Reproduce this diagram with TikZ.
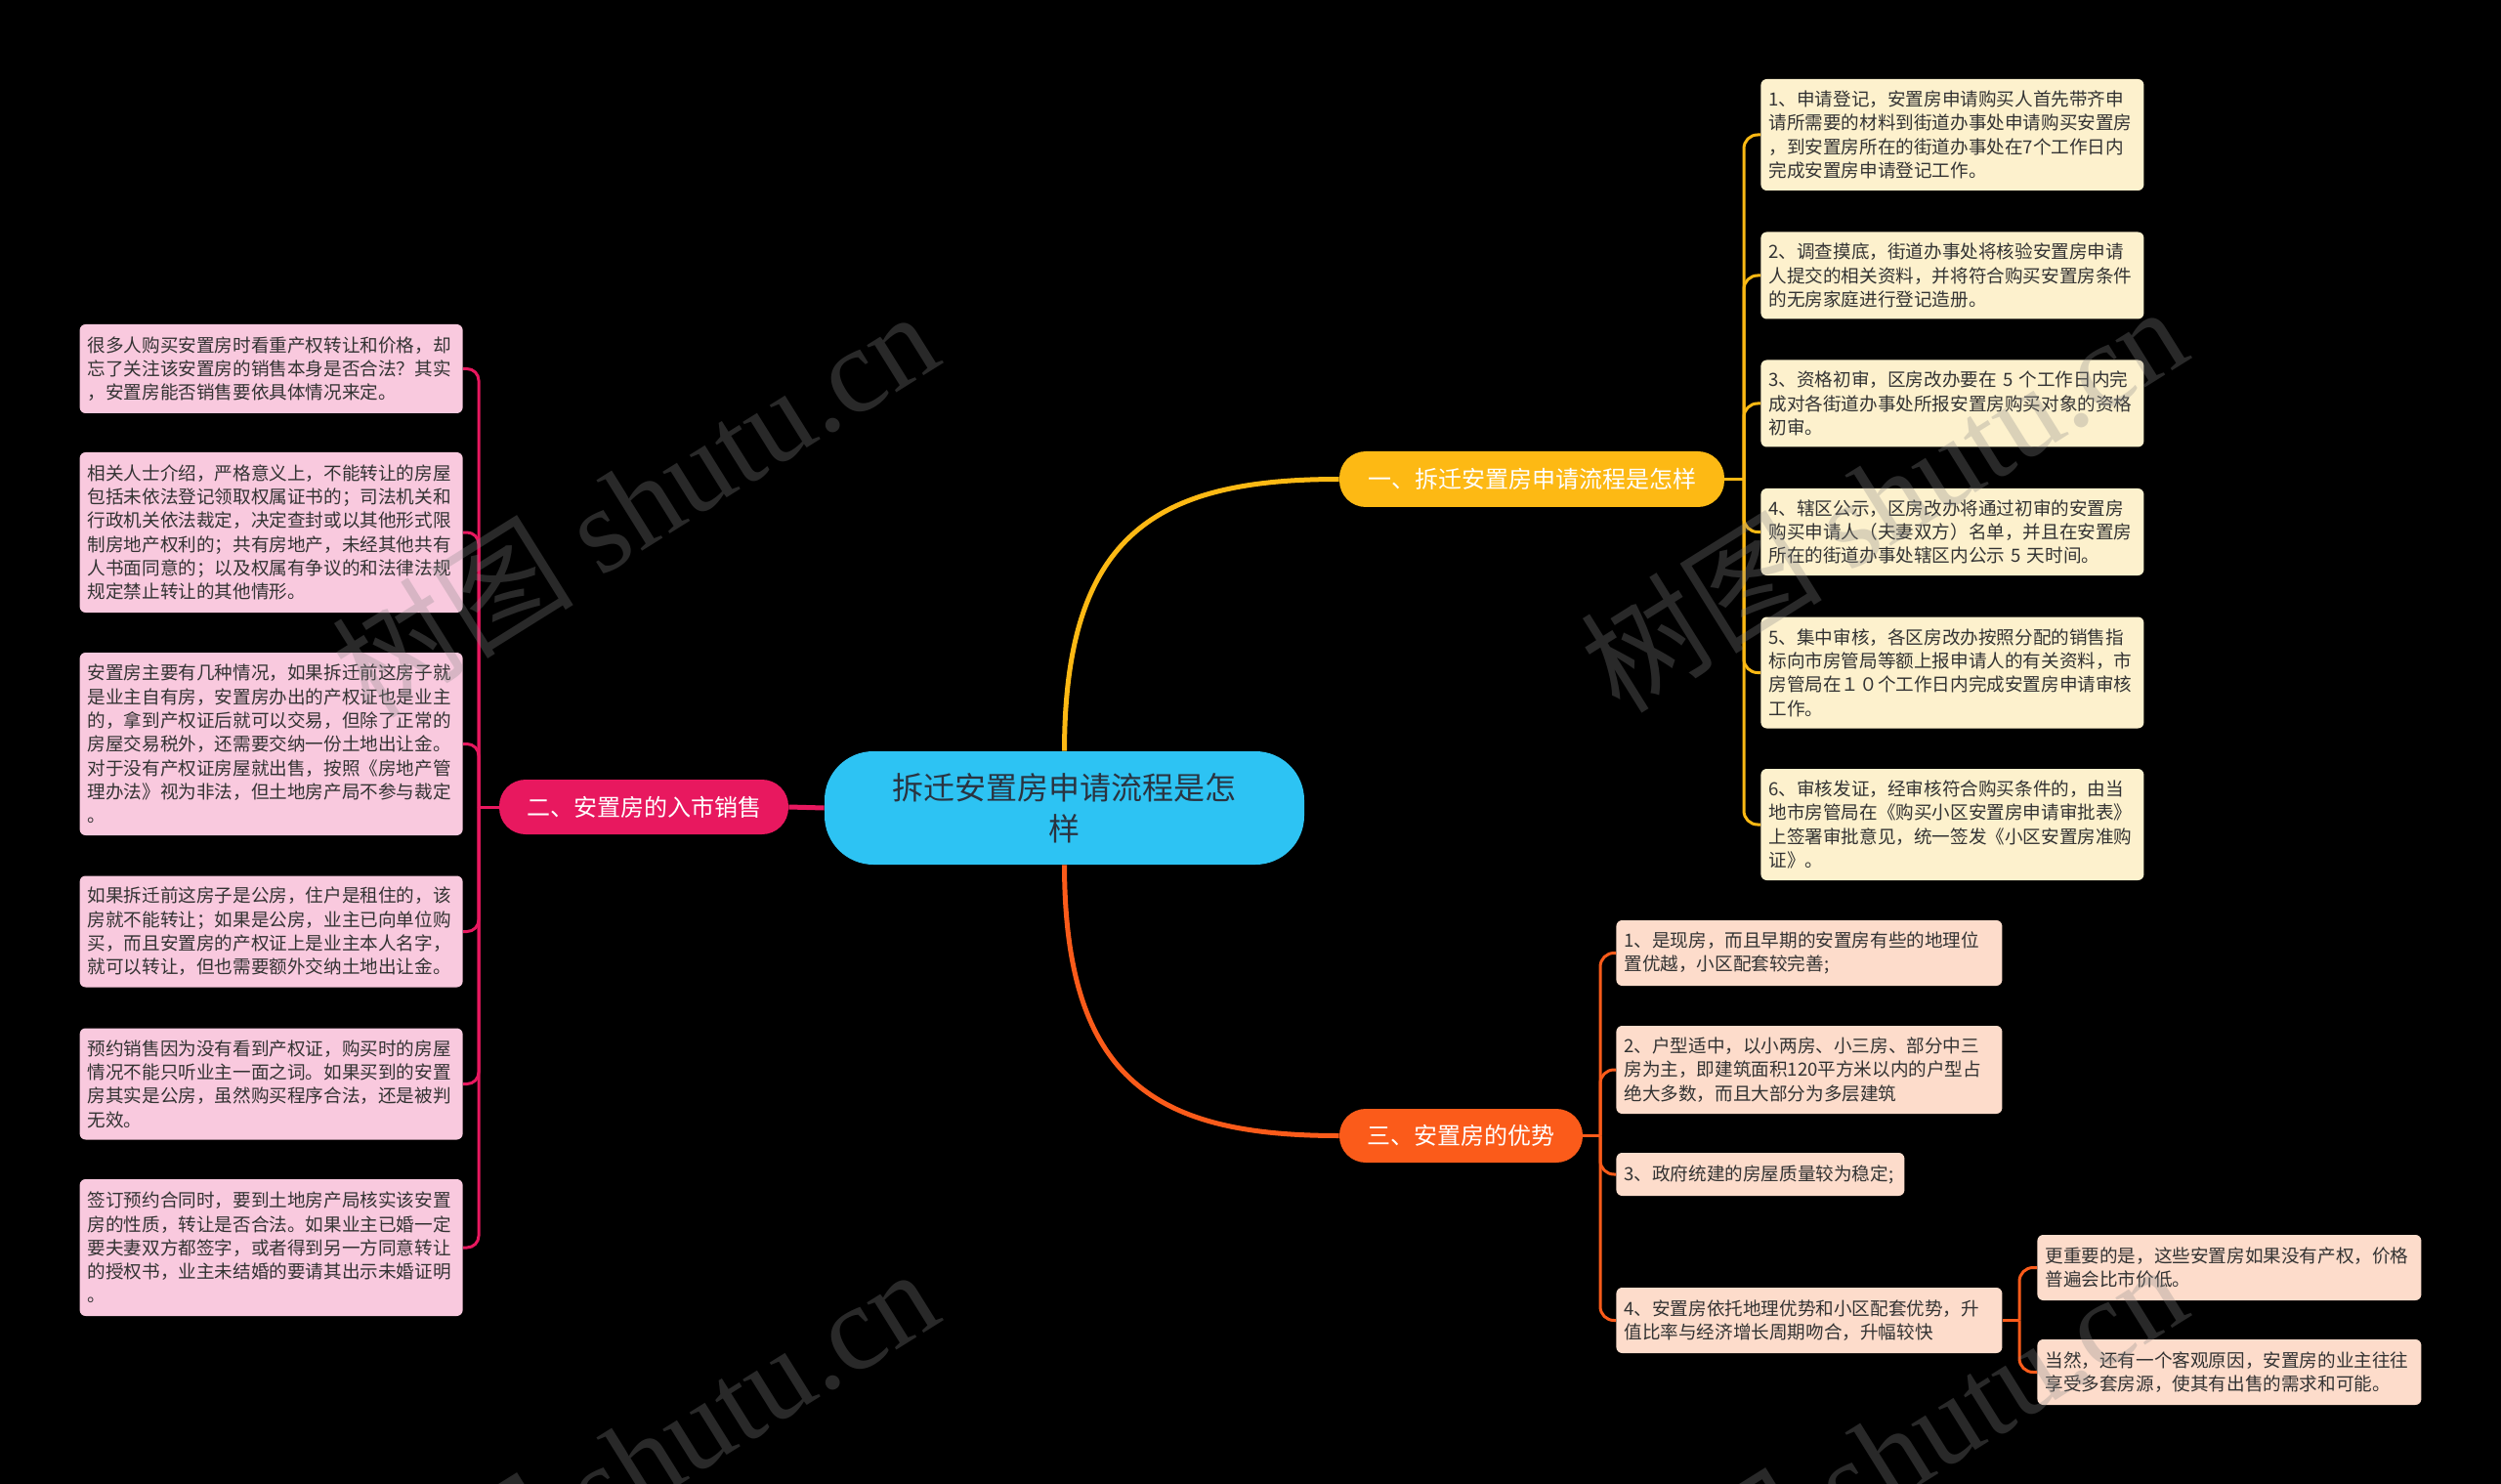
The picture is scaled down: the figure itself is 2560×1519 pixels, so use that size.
\documentclass[tikz,border=0pt]{standalone}
\usepackage{fontspec}
\setmainfont{Noto Sans CJK SC}
\newfontfamily\wmserif{Liberation Serif}
\definecolor{cyanC}{HTML}{2DC3F3}
\definecolor{yelB}{HTML}{FDB914}
\definecolor{pinkB}{HTML}{E8185F}
\definecolor{orngB}{HTML}{FB5B1A}
\definecolor{creamL}{HTML}{FDF1CD}
\definecolor{pinkL}{HTML}{F9C9DE}
\definecolor{peachL}{HTML}{FDDCCB}
\definecolor{txt}{HTML}{333333}
\definecolor{ctxt}{HTML}{2A3340}
\definecolor{wmgray}{HTML}{8A8A8A}
\begin{document}
\begin{tikzpicture}[x=0.5pt,y=-0.5pt,
  leaf/.style={rounded corners=3pt, inner xsep=4pt, inner ysep=0pt, align=left,
    text width=188pt, font=\fontsize{9.3pt}{12.15pt}\selectfont, text=txt},
  yleaf/.style={leaf, fill=creamL, anchor=west},
  pleaf/.style={leaf, fill=pinkL, anchor=east},
  oleaf/.style={leaf, fill=peachL, anchor=west},
  branch/.style={rounded corners=13.5pt, inner sep=0pt, text=white,
    font=\fontsize{12pt}{14pt}\selectfont},
  centerbox/.style={fill=cyanC, rounded corners=25pt, inner sep=0pt, align=center,
    minimum width=245.5pt, minimum height=58pt, text=ctxt,
    font=\fontsize{16pt}{21pt}\selectfont},
  yline/.style={draw=yelB, line width=1.5pt},
  pline/.style={draw=pinkB, line width=1.5pt},
  oline/.style={draw=orngB, line width=1.5pt},
  wm/.style={text=wmgray, opacity=0.3, font=\fontsize{62pt}{62pt}\selectfont, inner sep=0pt}
]
\useasboundingbox[fill=black] (0,0) rectangle (2560,1519);

% center and branches
\node[centerbox] (c) at (1089.5,827) {拆迁安置房申请流程是怎\\样};
\node[branch, fill=yelB, minimum width=197pt, minimum height=28.5pt] (b1) at (1568,490.5) {一、拆迁安置房申请流程是怎样};
\node[branch, fill=pinkB, minimum width=148pt, minimum height=28pt] (b2) at (659,826) {二、安置房的入市销售};
\node[branch, fill=orngB, minimum width=124.5pt, minimum height=27.5pt] (b3) at (1495.5,1162.5) {三、安置房的优势};

\draw[draw=yelB, line width=2.5pt] (c.north) .. controls (1090,545) and (1185,490.5) .. (b1.west);
\draw[draw=orngB, line width=2.5pt] (c.south) .. controls (1090,1108) and (1185,1162.5) .. (b3.west);
\draw[draw=pinkB, line width=2.5pt] (c.west) -- (b2.east);

% branch 1 leaves
\node[yleaf, minimum height=57pt] (y1) at (1802,138) {1、申请登记，安置房申请购买人首先带齐申\\请所需要的材料到街道办事处申请购买安置房\\，到安置房所在的街道办事处在7个工作日内\\完成安置房申请登记工作。};
\node[yleaf, minimum height=44.5pt] (y2) at (1802,282) {2、调查摸底，街道办事处将核验安置房申请\\人提交的相关资料，并将符合购买安置房条件\\的无房家庭进行登记造册。};
\node[yleaf, minimum height=44.5pt] (y3) at (1802,413) {3、资格初审，区房改办要在 5 个工作日内完\\成对各街道办事处所报安置房购买对象的资格\\初审。};
\node[yleaf, minimum height=44.5pt] (y4) at (1802,544.5) {4、辖区公示，区房改办将通过初审的安置房\\购买申请人（夫妻双方）名单，并且在安置房\\所在的街道办事处辖区内公示 5 天时间。};
\node[yleaf, minimum height=57pt] (y5) at (1802,688.5) {5、集中审核，各区房改办按照分配的销售指\\标向市房管局等额上报申请人的有关资料，市\\房管局在１０个工作日内完成安置房申请审核\\工作。};
\node[yleaf, minimum height=57pt] (y6) at (1802,844) {6、审核发证，经审核符合购买条件的，由当\\地市房管局在《购买小区安置房申请审批表》\\上签署审批意见，统一签发《小区安置房准购\\证》。};

\coordinate (j1) at (1785,490.5);
\draw[yline] (b1.east) -- (j1);
\foreach \n in {y1,y2,y3,y4,y5,y6} \draw[yline, rounded corners=7pt] (j1) |- (\n.west);

% branch 2 leaves
\node[pleaf, minimum height=45.5pt] (p1) at (474,377.5) {很多人购买安置房时看重产权转让和价格，却\\忘了关注该安置房的销售本身是否合法？其实\\，安置房能否销售要依具体情况来定。};
\node[pleaf, minimum height=82pt] (p2) at (474,545) {相关人士介绍，严格意义上，不能转让的房屋\\包括未依法登记领取权属证书的；司法机关和\\行政机关依法裁定，决定查封或以其他形式限\\制房地产权利的；共有房地产，未经其他共有\\人书面同意的；以及权属有争议的和法律法规\\规定禁止转让的其他情形。};
\node[pleaf, minimum height=93.5pt] (p3) at (474,761.5) {安置房主要有几种情况，如果拆迁前这房子就\\是业主自有房，安置房办出的产权证也是业主\\的，拿到产权证后就可以交易，但除了正常的\\房屋交易税外，还需要交纳一份土地出让金。\\对于没有产权证房屋就出售，按照《房地产管\\理办法》视为非法，但土地房产局不参与裁定\\。};
\node[pleaf, minimum height=57pt] (p4) at (474,953.5) {如果拆迁前这房子是公房，住户是租住的，该\\房就不能转让；如果是公房，业主已向单位购\\买，而且安置房的产权证上是业主本人名字，\\就可以转让，但也需要额外交纳土地出让金。};
\node[pleaf, minimum height=57pt] (p5) at (474,1109.5) {预约销售因为没有看到产权证，购买时的房屋\\情况不能只听业主一面之词。如果买到的安置\\房其实是公房，虽然购买程序合法，还是被判\\无效。};
\node[pleaf, minimum height=70pt] (p6) at (474,1277) {签订预约合同时，要到土地房产局核实该安置\\房的性质，转让是否合法。如果业主已婚一定\\要夫妻双方都签字，或者得到另一方同意转让\\的授权书，业主未结婚的要请其出示未婚证明\\。};

\coordinate (j2) at (490,826);
\draw[pline] (b2.west) -- (j2);
\foreach \n in {p1,p2,p3,p4,p5,p6} \draw[pline, rounded corners=6pt] (j2) |- (\n.east);

% branch 3 leaves
\node[oleaf, text width=189.5pt, minimum height=33.5pt] (o1) at (1654,975.5) {1、是现房，而且早期的安置房有些的地理位\\置优越，小区配套较完善;};
\node[oleaf, text width=189.5pt, minimum height=45pt] (o2) at (1654,1095) {2、户型适中，以小两房、小三房、部分中三\\房为主，即建筑面积120平方米以内的户型占\\绝大多数，而且大部分为多层建筑};
\node[oleaf, text width=139.5pt, minimum height=22pt] (o3) at (1654,1202) {3、政府统建的房屋质量较为稳定;};
\node[oleaf, text width=189.5pt, minimum height=33.5pt] (o4) at (1654,1351.5) {4、安置房依托地理优势和小区配套优势，升\\值比率与经济增长周期吻合，升幅较快};

\coordinate (j3) at (1638,1162.5);
\draw[oline] (b3.east) -- (j3);
\foreach \n in {o1,o2,o3,o4} \draw[oline, rounded corners=7pt] (j3) |- (\n.west);

\node[oleaf, text width=188.5pt, minimum height=33.5pt] (s1) at (2085,1297.5) {更重要的是，这些安置房如果没有产权，价格\\普遍会比市价低。};
\node[oleaf, text width=188.5pt, minimum height=33.5pt] (s2) at (2085,1404.5) {当然，还有一个客观原因，安置房的业主往往\\享受多套房源，使其有出售的需求和可能。};

\coordinate (j4) at (2067,1351.5);
\draw[oline] (o4.east) -- (j4);
\foreach \n in {s1,s2} \draw[oline, rounded corners=7pt] (j4) |- (\n.west);

% watermarks
\node[wm, rotate=32] (w1) at (649,514) {树图 {\wmserif shutu.cn}};
\node[wm, rotate=32] (w2) at (1927,509) {树图 {\wmserif shutu.cn}};
\node[wm, rotate=32] (w3) at (649,1494) {树图 {\wmserif shutu.cn}};
\node[wm, rotate=32] (w4) at (1927,1489) {树图 {\wmserif shutu.cn}};
\end{tikzpicture}
\end{document}
